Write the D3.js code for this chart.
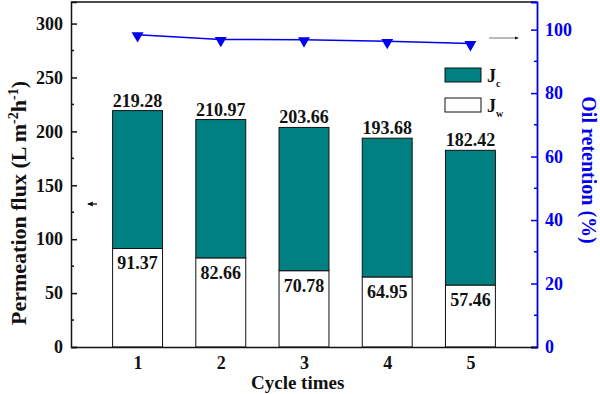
<!DOCTYPE html>
<html>
<head>
<meta charset="utf-8">
<script src="https://cdn.jsdelivr.net/npm/d3@7"></script>
<style>
  body { margin: 0; background: #fff; }
  svg text { font-family: "Liberation Serif", "Times New Roman", serif; font-weight: bold; }
</style>
</head>
<body>
<script>
var cycles = [1, 2, 3, 4, 5];
var totalFlux = [219.28, 210.97, 203.66, 193.68, 182.42];
var waterFlux = [91.37, 82.66, 70.78, 64.95, 57.46];
var oilRetention = [98.4, 96.9, 96.8, 96.3, 95.6];
var leftTicks = [0, 50, 100, 150, 200, 250, 300];
var rightTicks = [0, 20, 40, 60, 80, 100];

var width = 600, height = 394;
var plotLeft = 71, plotRight = 537, plotTop = 2, plotBottom = 347;
var teal = "#008080";
var blue = "#0000f0";

var svg = d3.select("body").append("svg")
  .attr("width", width)
  .attr("height", height);

var defs = svg.append("defs");
defs.append("marker")
  .attr("id", "head")
  .attr("viewBox", "0 0 10 10")
  .attr("refX", 8).attr("refY", 5)
  .attr("markerWidth", 4).attr("markerHeight", 4)
  .attr("orient", "auto")
  .append("path")
  .attr("d", "M0,1 L10,5 L0,9 z")
  .attr("fill", "#111");

// scales
var xScale = d3.scaleLinear().domain([0.2, 5.8]).range([plotLeft, plotRight]);
var yLeft = d3.scaleLinear().domain([0, 320]).range([plotBottom, plotTop]);
var yRight = d3.scaleLinear().domain([0, 108.7]).range([plotBottom, plotTop]);
var barW = xScale(1.3) - xScale(0.7);

// bars
var bars = svg.append("g");
cycles.forEach(function(c, i) {
  bars.append("rect")
    .attr("x", xScale(c) - barW / 2)
    .attr("y", yLeft(waterFlux[i]))
    .attr("width", barW)
    .attr("height", yLeft(0) - yLeft(waterFlux[i]))
    .attr("fill", "#fff")
    .attr("stroke", "#111")
    .attr("stroke-width", 1);
  bars.append("rect")
    .attr("x", xScale(c) - barW / 2)
    .attr("y", yLeft(totalFlux[i]))
    .attr("width", barW)
    .attr("height", yLeft(waterFlux[i]) - yLeft(totalFlux[i]))
    .attr("fill", teal)
    .attr("stroke", "#111")
    .attr("stroke-width", 1);
  bars.append("text")
    .attr("x", xScale(c))
    .attr("y", yLeft(totalFlux[i]) - 4)
    .attr("text-anchor", "middle")
    .attr("font-size", 18)
    .attr("fill", "#111")
    .text(totalFlux[i].toFixed(2));
  bars.append("text")
    .attr("x", xScale(c))
    .attr("y", yLeft(waterFlux[i]) + 21)
    .attr("text-anchor", "middle")
    .attr("font-size", 18)
    .attr("fill", "#111")
    .text(waterFlux[i].toFixed(2));
});

// frame top
svg.append("line")
  .attr("x1", plotLeft).attr("x2", plotRight)
  .attr("y1", plotTop).attr("y2", plotTop)
  .attr("stroke", "#111").attr("stroke-width", 1.5);

// left axis
var yAxisL = d3.axisLeft(yLeft).tickValues(leftTicks).tickSize(-6).tickPadding(8);
var gL = svg.append("g")
  .attr("transform", "translate(" + plotLeft + ",0)")
  .call(yAxisL);
gL.select(".domain").attr("stroke", "#111").attr("stroke-width", 1.5);
gL.selectAll(".tick line").attr("stroke", "#111").attr("stroke-width", 1.5);
gL.selectAll(".tick text")
  .attr("font-size", 18)
  .attr("fill", "#111")
  .attr("font-family", "Liberation Serif");
gL.selectAll(".minor")
  .data(leftTicks.slice(0, -1).map(function(d) { return d + 25; }))
  .enter().append("line")
  .attr("x1", 0).attr("x2", 3)
  .attr("y1", d => yLeft(d)).attr("y2", d => yLeft(d))
  .attr("stroke", "#111").attr("stroke-width", 1.5);

// right axis
var yAxisR = d3.axisRight(yRight).tickValues(rightTicks).tickSize(-6).tickPadding(8);
var gR = svg.append("g")
  .attr("transform", "translate(" + plotRight + ",0)")
  .call(yAxisR);
gR.select(".domain").attr("stroke", blue).attr("stroke-width", 1.8);
gR.selectAll(".tick line").attr("stroke", blue).attr("stroke-width", 1.5);
gR.selectAll(".tick text")
  .attr("font-size", 18)
  .attr("fill", blue)
  .attr("font-family", "Liberation Serif");
gR.selectAll(".minor")
  .data(rightTicks.slice(0, -1).map(function(d) { return d + 10; }))
  .enter().append("line")
  .attr("x1", 0).attr("x2", -3)
  .attr("y1", d => yRight(d)).attr("y2", d => yRight(d))
  .attr("stroke", blue).attr("stroke-width", 1.5);

// bottom axis
var xAxis = d3.axisBottom(xScale).tickValues(cycles).tickSize(0).tickPadding(9)
  .tickFormat(d3.format("d"));
var gX = svg.append("g")
  .attr("transform", "translate(0," + plotBottom + ")")
  .call(xAxis);
gX.select(".domain").attr("stroke", "#111").attr("stroke-width", 1.5);
gX.selectAll(".tick text")
  .attr("font-size", 18)
  .attr("fill", "#111")
  .attr("font-family", "Liberation Serif");

// oil retention line
var line = d3.line()
  .x((d, i) => xScale(cycles[i]))
  .y(d => yRight(d));
svg.append("path")
  .datum(oilRetention)
  .attr("d", line)
  .attr("fill", "none")
  .attr("stroke", blue)
  .attr("stroke-width", 1.5);
svg.selectAll(".tri")
  .data(oilRetention)
  .enter().append("path")
  .attr("d", d3.symbol().type(d3.symbolTriangle).size(62))
  .attr("transform", (d, i) => "translate(" + xScale(cycles[i]) + "," + (yRight(d) + 1) + ") rotate(180)")
  .attr("fill", blue);

// arrows
svg.append("line")
  .attr("x1", 489).attr("x2", 518)
  .attr("y1", 38).attr("y2", 38)
  .attr("stroke", "#777").attr("stroke-width", 1)
  .attr("marker-end", "url(#head)");
svg.append("line")
  .attr("x1", 97).attr("x2", 88)
  .attr("y1", 204).attr("y2", 204)
  .attr("stroke", "#333").attr("stroke-width", 1.5)
  .attr("marker-end", "url(#head)");

// legend
var legend = svg.append("g").attr("transform", "translate(445,68)");
[["c", teal], ["w", "#fff"]].forEach(function(item, i) {
  var g = legend.append("g").attr("transform", "translate(0," + i * 30 + ")");
  g.append("rect")
    .attr("width", 36).attr("height", 14)
    .attr("fill", item[1])
    .attr("stroke", "#111").attr("stroke-width", 1);
  var t = g.append("text")
    .attr("x", 42).attr("y", 14)
    .attr("font-size", 18)
    .attr("fill", "#111");
  t.append("tspan").text("J");
  t.append("tspan").attr("dy", 5).attr("font-size", 10).text(item[0]);
});

// axis titles
svg.append("text")
  .attr("x", 251).attr("y", 389)
  .attr("font-size", 19)
  .attr("fill", "#111")
  .text("Cycle times");

var tl = svg.append("text")
  .attr("transform", "translate(26,203) rotate(-90)")
  .attr("text-anchor", "middle")
  .attr("font-size", 22)
  .attr("fill", "#111");
tl.append("tspan").text("Permeation flux (L m");
tl.append("tspan").attr("dy", -8).attr("font-size", 14).text("-2");
tl.append("tspan").attr("dy", 8).text("h");
tl.append("tspan").attr("dy", -8).attr("font-size", 14).text("-1");
tl.append("tspan").attr("dy", 8).text(")");

svg.append("text")
  .attr("transform", "translate(582,170) rotate(90)")
  .attr("text-anchor", "middle")
  .attr("font-size", 20)
  .attr("fill", blue)
  .text("Oil retention (%)");
</script>
</body>
</html>
